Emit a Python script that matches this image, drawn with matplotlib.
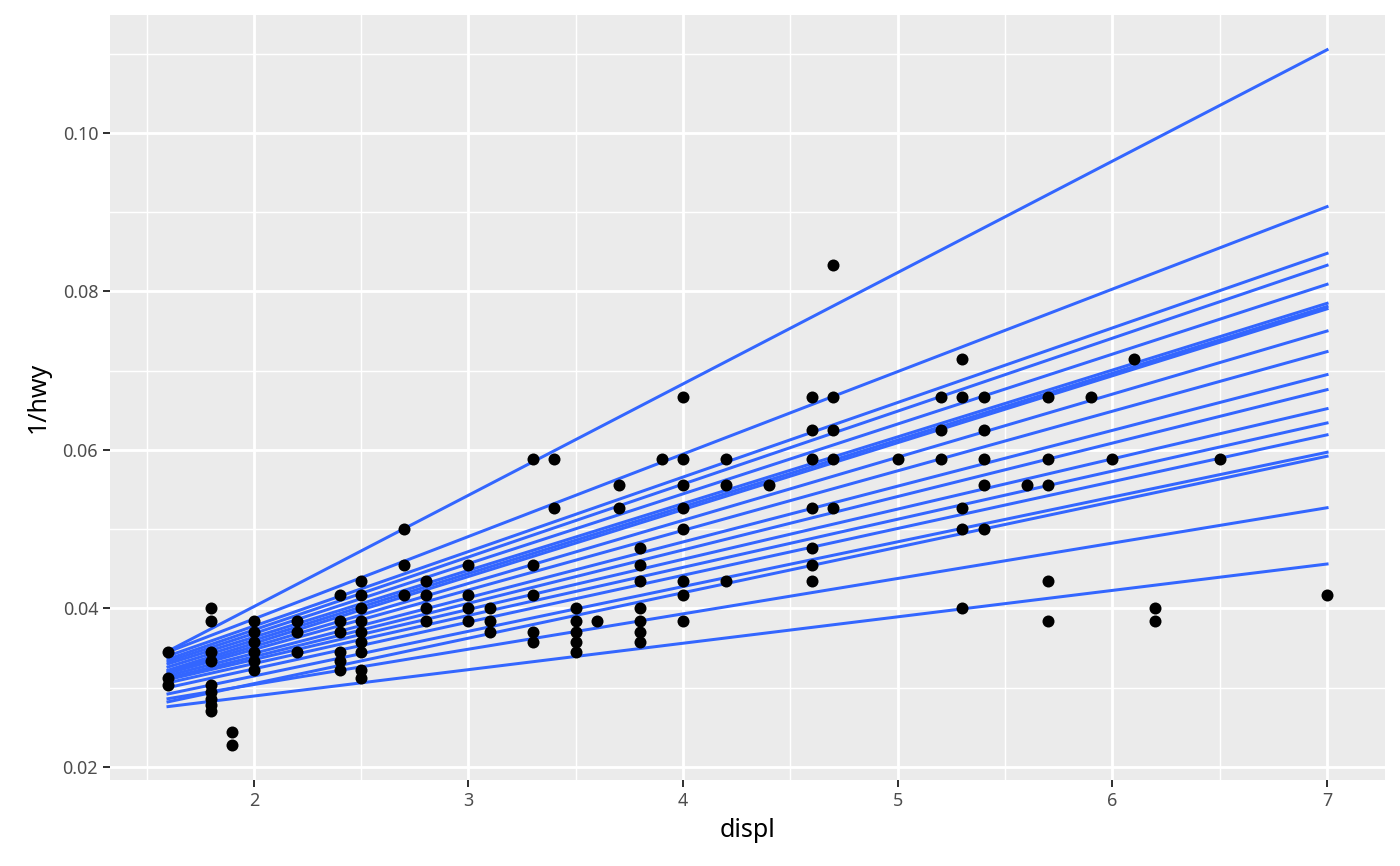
import numpy as np
import matplotlib.pyplot as plt

# points: engine displacement and highway mpg (unique pairs)
displ = [1.6, 1.6, 1.6,
         1.8, 1.8, 1.8, 1.8, 1.8, 1.8, 1.8, 1.8, 1.8,
         1.9, 1.9,
         2.0, 2.0, 2.0, 2.0, 2.0, 2.0,
         2.2, 2.2, 2.2,
         2.4, 2.4, 2.4, 2.4, 2.4, 2.4,
         2.5, 2.5, 2.5, 2.5, 2.5, 2.5, 2.5, 2.5, 2.5,
         2.7, 2.7, 2.7,
         2.8, 2.8, 2.8, 2.8,
         3.0, 3.0, 3.0, 3.0,
         3.1, 3.1, 3.1,
         3.3, 3.3, 3.3, 3.3, 3.3,
         3.4, 3.4,
         3.5, 3.5, 3.5, 3.5, 3.5,
         3.6,
         3.7, 3.7,
         3.8, 3.8, 3.8, 3.8, 3.8, 3.8, 3.8,
         3.9,
         4.0, 4.0, 4.0, 4.0, 4.0, 4.0, 4.0, 4.0,
         4.2, 4.2, 4.2,
         4.4,
         4.6, 4.6, 4.6, 4.6, 4.6, 4.6, 4.6,
         4.7, 4.7, 4.7, 4.7, 4.7,
         5.0,
         5.2, 5.2, 5.2,
         5.3, 5.3, 5.3, 5.3, 5.3,
         5.4, 5.4, 5.4, 5.4, 5.4,
         5.6,
         5.7, 5.7, 5.7, 5.7, 5.7,
         5.9, 6.0, 6.1,
         6.2, 6.2,
         6.5, 7.0]
hwy = [29, 32, 33,
       25, 26, 29, 30, 33, 34, 35, 36, 37,
       41, 44,
       26, 27, 28, 29, 30, 31,
       26, 27, 29,
       24, 26, 27, 29, 30, 31,
       23, 24, 25, 26, 27, 28, 29, 31, 32,
       20, 22, 24,
       23, 24, 25, 26,
       22, 24, 25, 26,
       25, 26, 27,
       17, 22, 24, 27, 28,
       17, 19,
       25, 26, 27, 28, 29,
       26,
       18, 19,
       21, 22, 23, 25, 26, 27, 28,
       17,
       15, 17, 18, 19, 20, 23, 24, 26,
       17, 18, 23,
       18,
       15, 16, 17, 19, 21, 22, 23,
       12, 15, 16, 17, 19,
       17,
       15, 16, 17,
       14, 15, 19, 20, 25,
       15, 16, 17, 18, 20,
       18,
       15, 17, 18, 23, 26,
       15, 17, 14,
       25, 26,
       17, 24]

# fitted lines: value of 1/hwy at the smallest and largest displ
line_start = [0.0346, 0.0345, 0.0340, 0.0336, 0.0333, 0.0330, 0.0326,
              0.0322, 0.0320, 0.0318, 0.0315, 0.0312, 0.0310, 0.0306,
              0.0300, 0.0292, 0.0282, 0.0286, 0.0276]
line_end = [0.1105, 0.0907, 0.0848, 0.0833, 0.0809, 0.0785, 0.0781,
            0.0778, 0.0750, 0.0724, 0.0695, 0.0676, 0.0652, 0.0634,
            0.0619, 0.0597, 0.0592, 0.0527, 0.0456]

x = np.array(displ)
y = 1 / np.array(hwy)
x_range = [x.min(), x.max()]

plt.rcParams['font.family'] = ['Noto Sans', 'DejaVu Sans']

fig = plt.figure(figsize=(1400 / 144, 866 / 144), dpi=144)
ax = fig.add_axes([0.0786, 0.0993, 0.9893 - 0.0786, 0.9827 - 0.0993])
ax.set_facecolor('#EBEBEB')
for s in ax.spines.values():
    s.set_visible(False)

for y0, y1 in zip(line_start, line_end):
    ax.plot(x_range, [y0, y1], color='#3366FF', linewidth=1.5, zorder=3)

ax.scatter(x, y, s=36, color='black', linewidths=0, zorder=4)

# ggplot-like limits with 5% expansion
ymin = min(y.min(), min(line_start))
ymax = max(y.max(), max(line_end))
dx = (x_range[1] - x_range[0]) * 0.05
dy = (ymax - ymin) * 0.05
ax.set_xlim(x_range[0] - dx, x_range[1] + dx)
ax.set_ylim(ymin - dy, ymax + dy)

ax.set_xticks([2, 3, 4, 5, 6, 7])
ax.set_xticks([1.5, 2.5, 3.5, 4.5, 5.5, 6.5], minor=True)
ax.set_yticks([0.02, 0.04, 0.06, 0.08, 0.10])
ax.set_yticks([0.03, 0.05, 0.07, 0.09, 0.11], minor=True)
ax.set_yticklabels(['0.02', '0.04', '0.06', '0.08', '0.10'])

ax.grid(which='major', color='white', linewidth=1.42, zorder=0)
ax.grid(which='minor', color='white', linewidth=0.71, zorder=0)
ax.set_axisbelow(True)

ax.tick_params(which='major', length=3.7, width=1.0, color='#333333',
               labelsize=9, labelcolor='#4D4D4D', pad=2.2)
ax.tick_params(which='minor', length=0)

ax.set_xlabel('displ', fontsize=12.5, color='black', labelpad=4)
ax.set_ylabel('1/hwy', fontsize=12.5, color='black', labelpad=6)

fig.savefig('out.png', dpi=144, facecolor='white')
